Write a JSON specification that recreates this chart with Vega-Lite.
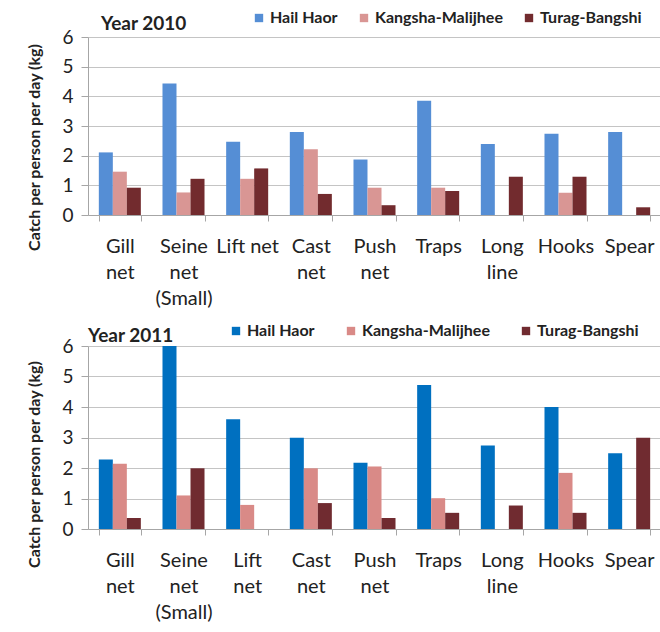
{
  "$schema": "https://vega.github.io/schema/vega-lite/v6.json",
  "background": "white",
  "padding": {"left": 26, "top": 10, "right": 0, "bottom": 0},
  "spacing": 15,
  "config": {
    "font": "Lato",
    "view": {"stroke": null},
    "axis": {"labelColor": "#222222", "titleColor": "#222222", "domainColor": "#A6A6A6", "tickColor": "#A6A6A6", "gridColor": "#C4C4C4"},
    "title": {"color": "#222222"},
    "legend": {"labelColor": "#222222"}
  },
  "datasets": {
    "y2010": [
      {"gear": "Gill net", "site": "Hail Haor", "value": 2.11},
      {"gear": "Gill net", "site": "Kangsha-Malijhee", "value": 1.46},
      {"gear": "Gill net", "site": "Turag-Bangshi", "value": 0.92},
      {"gear": "Seine net (Small)", "site": "Hail Haor", "value": 4.43},
      {"gear": "Seine net (Small)", "site": "Kangsha-Malijhee", "value": 0.76},
      {"gear": "Seine net (Small)", "site": "Turag-Bangshi", "value": 1.22},
      {"gear": "Lift net", "site": "Hail Haor", "value": 2.47},
      {"gear": "Lift net", "site": "Kangsha-Malijhee", "value": 1.22},
      {"gear": "Lift net", "site": "Turag-Bangshi", "value": 1.57},
      {"gear": "Cast net", "site": "Hail Haor", "value": 2.80},
      {"gear": "Cast net", "site": "Kangsha-Malijhee", "value": 2.22},
      {"gear": "Cast net", "site": "Turag-Bangshi", "value": 0.71},
      {"gear": "Push net", "site": "Hail Haor", "value": 1.87},
      {"gear": "Push net", "site": "Kangsha-Malijhee", "value": 0.92},
      {"gear": "Push net", "site": "Turag-Bangshi", "value": 0.33},
      {"gear": "Traps", "site": "Hail Haor", "value": 3.85},
      {"gear": "Traps", "site": "Kangsha-Malijhee", "value": 0.92},
      {"gear": "Traps", "site": "Turag-Bangshi", "value": 0.81},
      {"gear": "Long line", "site": "Hail Haor", "value": 2.39},
      {"gear": "Long line", "site": "Turag-Bangshi", "value": 1.29},
      {"gear": "Hooks", "site": "Hail Haor", "value": 2.74},
      {"gear": "Hooks", "site": "Kangsha-Malijhee", "value": 0.75},
      {"gear": "Hooks", "site": "Turag-Bangshi", "value": 1.29},
      {"gear": "Spear", "site": "Hail Haor", "value": 2.80},
      {"gear": "Spear", "site": "Turag-Bangshi", "value": 0.26}
    ],
    "y2011": [
      {"gear": "Gill net", "site": "Hail Haor", "value": 2.28},
      {"gear": "Gill net", "site": "Kangsha-Malijhee", "value": 2.14},
      {"gear": "Gill net", "site": "Turag-Bangshi", "value": 0.36},
      {"gear": "Seine net (Small)", "site": "Hail Haor", "value": 6.0},
      {"gear": "Seine net (Small)", "site": "Kangsha-Malijhee", "value": 1.10},
      {"gear": "Seine net (Small)", "site": "Turag-Bangshi", "value": 1.99},
      {"gear": "Lift net", "site": "Hail Haor", "value": 3.60},
      {"gear": "Lift net", "site": "Kangsha-Malijhee", "value": 0.79},
      {"gear": "Cast net", "site": "Hail Haor", "value": 2.99},
      {"gear": "Cast net", "site": "Kangsha-Malijhee", "value": 1.99},
      {"gear": "Cast net", "site": "Turag-Bangshi", "value": 0.85},
      {"gear": "Push net", "site": "Hail Haor", "value": 2.17},
      {"gear": "Push net", "site": "Kangsha-Malijhee", "value": 2.05},
      {"gear": "Push net", "site": "Turag-Bangshi", "value": 0.36},
      {"gear": "Traps", "site": "Hail Haor", "value": 4.72},
      {"gear": "Traps", "site": "Kangsha-Malijhee", "value": 1.01},
      {"gear": "Traps", "site": "Turag-Bangshi", "value": 0.53},
      {"gear": "Long line", "site": "Hail Haor", "value": 2.74},
      {"gear": "Long line", "site": "Turag-Bangshi", "value": 0.77},
      {"gear": "Hooks", "site": "Hail Haor", "value": 4.0},
      {"gear": "Hooks", "site": "Kangsha-Malijhee", "value": 1.84},
      {"gear": "Hooks", "site": "Turag-Bangshi", "value": 0.53},
      {"gear": "Spear", "site": "Hail Haor", "value": 2.48},
      {"gear": "Spear", "site": "Turag-Bangshi", "value": 2.99}
    ]
  },
  "resolve": {"scale": {"color": "independent"}, "legend": {"color": "independent"}},
  "vconcat": [
    {
      "data": {"name": "y2010"},
      "width": 573,
      "height": 178,
      "title": {"text": "Year 2010", "anchor": "start", "frame": "group", "dx": 13, "fontSize": 19, "fontWeight": "bold", "offset": -24},
      "mark": {"type": "bar"},
      "encoding": {
        "x": {
          "field": "gear", "type": "nominal",
          "sort": ["Gill net", "Seine net (Small)", "Lift net", "Cast net", "Push net", "Traps", "Long line", "Hooks", "Spear"],
          "scale": {"paddingInner": 0.34, "paddingOuter": 0.17},
          "axis": {"title": null, "labelAngle": 0, "tickBand": "extent", "grid": false, "labelFontSize": 20, "labelLineHeight": 26, "labelPadding": 15, "tickSize": 6, "labelOverlap": false,
                   "labelExpr": "datum.label == 'Lift net' ? datum.label : split(datum.label, ' ')"}
        },
        "xOffset": {"field": "site", "type": "nominal", "scale": {"domain": ["Hail Haor", "Kangsha-Malijhee", "Turag-Bangshi"]}},
        "y": {
          "field": "value", "type": "quantitative",
          "scale": {"domain": [0, 6]},
          "axis": {"title": "Catch per person per day (kg)", "titleFontSize": 16, "titleFontWeight": "bold", "titlePadding": 19, "titleY": 110, "values": [0, 1, 2, 3, 4, 5, 6], "labelFontSize": 19, "tickSize": 7, "labelPadding": 8}
        },
        "color": {
          "field": "site", "type": "nominal",
          "scale": {"domain": ["Hail Haor", "Kangsha-Malijhee", "Turag-Bangshi"], "range": ["#558ED5", "#D99694", "#722B2E"]},
          "legend": {"title": null, "orient": "none", "legendX": 163, "legendY": -27, "direction": "horizontal", "symbolType": "square", "symbolSize": 70, "symbolStrokeWidth": 0, "labelFontSize": 16, "labelFontWeight": "bold", "columnPadding": 18, "labelOffset": 3}
        }
      }
    },
    {
      "data": {"name": "y2011"},
      "width": 573,
      "height": 183,
      "title": {"text": "Year 2011", "anchor": "start", "frame": "group", "dx": 0, "fontSize": 19, "fontWeight": "bold", "offset": -23},
      "mark": {"type": "bar"},
      "encoding": {
        "x": {
          "field": "gear", "type": "nominal",
          "sort": ["Gill net", "Seine net (Small)", "Lift net", "Cast net", "Push net", "Traps", "Long line", "Hooks", "Spear"],
          "scale": {"paddingInner": 0.34, "paddingOuter": 0.17},
          "axis": {"title": null, "labelAngle": 0, "tickBand": "extent", "grid": false, "labelFontSize": 20, "labelLineHeight": 26, "labelPadding": 15, "tickSize": 6, "labelOverlap": false,
                   "labelExpr": "split(datum.label, ' ')"}
        },
        "xOffset": {"field": "site", "type": "nominal", "scale": {"domain": ["Hail Haor", "Kangsha-Malijhee", "Turag-Bangshi"]}},
        "y": {
          "field": "value", "type": "quantitative",
          "scale": {"domain": [0, 6]},
          "axis": {"title": "Catch per person per day (kg)", "titleFontSize": 16, "titleFontWeight": "bold", "titlePadding": 19, "titleY": 118, "values": [0, 1, 2, 3, 4, 5, 6], "labelFontSize": 19, "tickSize": 7, "labelPadding": 8}
        },
        "color": {
          "field": "site", "type": "nominal",
          "scale": {"domain": ["Hail Haor", "Kangsha-Malijhee", "Turag-Bangshi"], "range": ["#0070C0", "#D98A87", "#702B30"]},
          "legend": {"title": null, "orient": "none", "legendX": 140, "legendY": -23, "direction": "horizontal", "symbolType": "square", "symbolSize": 70, "symbolStrokeWidth": 0, "labelFontSize": 16, "labelFontWeight": "bold", "columnPadding": 28, "labelOffset": 3}
        }
      }
    }
  ]
}
